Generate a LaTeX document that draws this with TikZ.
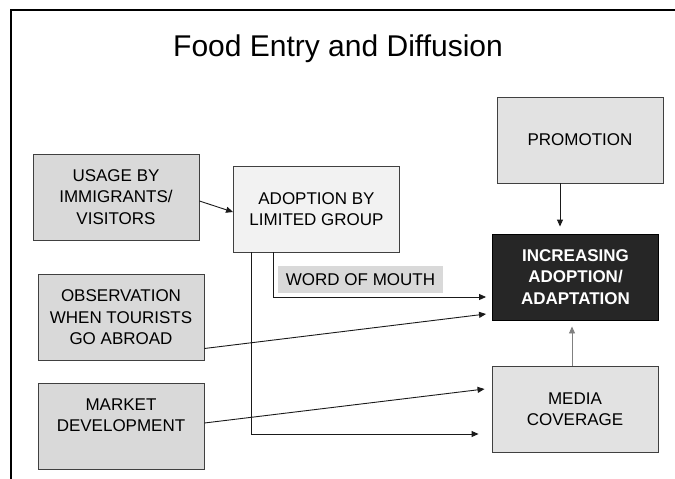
\documentclass[tikz,border=0pt]{standalone}
\usepackage{fontspec}
\setmainfont{Liberation Sans}
\usetikzlibrary{arrows.meta,calc}
\definecolor{boxline}{HTML}{404040}
\definecolor{greyfill}{HTML}{D9D9D9}
\definecolor{paleFill}{HTML}{F2F2F2}
\definecolor{midfill}{HTML}{E2E2E2}
\definecolor{darkfill}{HTML}{262626}
\definecolor{wire}{HTML}{1A1A1A}
\tikzset{
	stagebox/.style={shape=rectangle, draw=boxline, line width=0.9pt, minimum width=166pt, minimum height=86pt, align=center, inner sep=0pt, font=\fontsize{17}{21.5}\selectfont},
	conn/.style={draw=wire, line width=0.9pt, -{Triangle[length=7pt,width=6pt]}}
}
\begin{document}
\begin{tikzpicture}[x=1pt, y=-1pt]
	\useasboundingbox (0, 0) rectangle (675, 479);
	% Frame and title:
	\draw[line width=2pt] (675, 10) -- (11, 10) -- (11, 479);
	\node[anchor=base, font=\fontsize{30}{36}\selectfont] (title) at (338, 56){Food Entry and Diffusion};
	% Boxes:
	\node[stagebox, fill=greyfill] (usage) at (116, 197){USAGE BY\\IMMIGRANTS/\\VISITORS};
	\node[stagebox, fill=paleFill] (adoption) at (316.5, 209){ADOPTION BY\\LIMITED GROUP};
	\node[stagebox, fill=midfill] (promo) at (580, 140){PROMOTION};
	\node[stagebox, fill=darkfill, draw=black, text=white, font=\fontsize{17}{21.5}\selectfont\bfseries] (increasing) at (575.5, 277){INCREASING\\ADOPTION/\\ADAPTATION};
	\node[stagebox, fill=greyfill] (observation) at (121, 317.5){OBSERVATION\\WHEN TOURISTS\\GO ABROAD};
	\node[stagebox, fill=greyfill] (market) at (121, 426){MARKET\\DEVELOPMENT\\\mbox{}};
	\node[stagebox, fill=midfill] (media) at (575, 409){MEDIA\\COVERAGE};
	\node[shape=rectangle, fill=greyfill, minimum width=165pt, minimum height=27pt, inner sep=0pt, font=\fontsize{17}{21.5}\selectfont] (wom) at (360.5, 279.5){WORD OF MOUTH};
	% Connectors:
	\draw[conn] ($(usage.east)+(0, 4)$) -- ($(adoption.west)+(0, 3)$);
	\draw[conn] ($(adoption.south west)+(40, 0)$) |- ($(increasing.west)+(-6, 20)$);
	\draw[conn] ($(adoption.south west)+(18, 0)$) |- ($(media.west)+(-13, 25)$);
	\draw[conn] ($(observation.east)+(0, 31)$) -- ($(increasing.west)+(-6, 37)$);
	\draw[conn] ($(market.east)+(0, -3)$) -- ($(media.west)+(-7, -20)$);
	\draw[conn] ($(promo.south)+(-20, 0)$) -- ($(increasing.north)+(-15.5, -7)$);
	\draw[conn, draw=gray] ($(media.north)+(-3, 0)$) -- ($(increasing.south)+(-3.5, 6)$);
\end{tikzpicture}
\end{document}
